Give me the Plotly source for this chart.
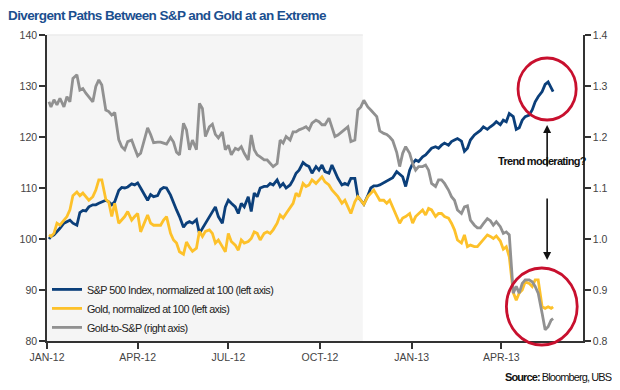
import plotly.graph_objects as go

dates = [
    "2012-01-03", "2012-01-05", "2012-01-08", "2012-01-11", "2012-01-14", "2012-01-18", "2012-01-21", "2012-01-24", "2012-01-27", "2012-01-31",
    "2012-02-03", "2012-02-06", "2012-02-09", "2012-02-12", "2012-02-16", "2012-02-19", "2012-02-22", "2012-02-25", "2012-02-29",
    "2012-03-03", "2012-03-06", "2012-03-09", "2012-03-13", "2012-03-16", "2012-03-19", "2012-03-22", "2012-03-26", "2012-03-29",
    "2012-04-01", "2012-04-04", "2012-04-08", "2012-04-11", "2012-04-14", "2012-04-17", "2012-04-21", "2012-04-24", "2012-04-27", "2012-04-30",
    "2012-05-04", "2012-05-07", "2012-05-10", "2012-05-13", "2012-05-17", "2012-05-20", "2012-05-23", "2012-05-26", "2012-05-30",
    "2012-06-02", "2012-06-05", "2012-06-08", "2012-06-12", "2012-06-15", "2012-06-18", "2012-06-21", "2012-06-25", "2012-06-28",
    "2012-07-01", "2012-07-04", "2012-07-08", "2012-07-11", "2012-07-14", "2012-07-17", "2012-07-21", "2012-07-24", "2012-07-27", "2012-07-30",
    "2012-08-02", "2012-08-06", "2012-08-09", "2012-08-12", "2012-08-15", "2012-08-19", "2012-08-22", "2012-08-25", "2012-08-28",
    "2012-09-01", "2012-09-04", "2012-09-07", "2012-09-10", "2012-09-14", "2012-09-17", "2012-09-20", "2012-09-23", "2012-09-27", "2012-09-30",
    "2012-10-03", "2012-10-06", "2012-10-10", "2012-10-13", "2012-10-16", "2012-10-19", "2012-10-23", "2012-10-26", "2012-10-29",
    "2012-11-01", "2012-11-05", "2012-11-08", "2012-11-11", "2012-11-14", "2012-11-18", "2012-11-21", "2012-11-24", "2012-11-27", "2012-11-30",
    "2012-12-04", "2012-12-07", "2012-12-10", "2012-12-13", "2012-12-17", "2012-12-20", "2012-12-23", "2012-12-26", "2012-12-30",
    "2013-01-02", "2013-01-05", "2013-01-08", "2013-01-12", "2013-01-15", "2013-01-18", "2013-01-21", "2013-01-25", "2013-01-28", "2013-01-31",
    "2013-02-03", "2013-02-07", "2013-02-10", "2013-02-13", "2013-02-16", "2013-02-20", "2013-02-23", "2013-02-26",
    "2013-03-01", "2013-03-05", "2013-03-08", "2013-03-11", "2013-03-14", "2013-03-18", "2013-03-21", "2013-03-24", "2013-03-27", "2013-03-31",
    "2013-04-03", "2013-04-06", "2013-04-09", "2013-04-13", "2013-04-16", "2013-04-19", "2013-04-22", "2013-04-25", "2013-04-29",
    "2013-05-02", "2013-05-05", "2013-05-08", "2013-05-12", "2013-05-15", "2013-05-18", "2013-05-21", "2013-05-23",
]

sp500 = [
    100.0, 100.5, 100.8, 101.4, 102.1, 103.1, 103.4, 103.7, 103.1, 102.7,
    105.2, 105.6, 105.5, 106.3, 106.7, 106.7, 107.0, 107.3, 107.6,
    107.3, 106.7, 107.3, 109.5, 110.1, 110.0, 110.2, 110.8, 110.6,
    111.0, 110.0, 108.6, 107.6, 108.7, 108.3, 108.5, 109.7, 110.1, 110.0,
    108.6, 107.0, 105.7, 104.4, 102.3, 103.1, 103.4, 103.1, 103.8,
    101.1, 102.1, 103.1, 104.4, 105.4, 106.3, 104.4, 103.1, 106.3,
    107.6, 107.0, 106.3, 105.0, 107.0, 106.3, 108.3, 105.4, 109.0, 108.3,
    110.0, 110.3, 110.3, 110.9, 110.6, 111.6, 110.3, 110.9, 110.0,
    110.6, 111.6, 112.9, 113.5, 115.0, 114.5, 114.2, 112.9, 114.2, 113.5,
    114.5, 113.2, 112.9, 114.5, 113.2, 111.9, 110.6, 110.9, 110.6,
    111.9, 111.9, 108.3, 107.6, 106.8, 108.5, 110.0, 110.4, 110.4, 110.6,
    111.0, 111.4, 111.7, 112.0, 113.2, 112.6, 112.2, 110.3, 113.5,
    114.8, 115.5, 115.2, 116.1, 116.5, 117.1, 117.8, 118.1, 117.8, 118.4,
    118.8, 118.4, 119.1, 119.4, 119.7, 119.2, 117.2, 117.8,
    119.4, 120.4, 120.8, 121.3, 122.0, 121.5, 122.0, 122.4, 123.0, 122.4,
    123.3, 123.0, 124.6, 124.0, 121.5, 121.8, 123.3, 124.0, 124.3,
    125.3, 126.9, 127.9, 128.9, 130.3, 130.8, 129.5, 128.9,
]

gold = [
    100.8, 100.5, 101.1, 103.1, 102.7, 103.7, 104.4, 105.7, 108.5, 109.2,
    108.5, 109.0, 108.3, 107.6, 108.3, 109.6, 111.6, 111.6, 107.8,
    107.2, 104.4, 107.0, 103.1, 103.7, 104.4, 105.4, 103.7, 104.4,
    105.0, 101.4, 103.1, 104.7, 103.1, 102.7, 102.7, 102.7, 103.7, 104.4,
    101.1, 99.8, 99.2, 97.5, 97.0, 99.4, 98.4, 97.6, 98.2,
    101.5, 100.5, 101.5, 101.8, 101.1, 99.2, 99.8, 98.5, 97.5,
    101.1, 99.5, 98.8, 97.8, 99.8, 99.2, 99.5, 100.1, 101.4, 101.1,
    99.8, 101.1, 101.4, 101.1, 101.8, 103.1, 104.7, 104.1, 105.0,
    106.3, 107.0, 109.0, 108.3, 110.9, 110.3, 110.6, 111.6, 110.9, 111.6,
    112.2, 111.2, 110.6, 109.6, 109.0, 108.3, 107.0, 107.6, 106.3,
    105.0, 107.3, 108.3, 107.6, 106.8, 108.3, 109.0, 109.6, 108.6, 107.6,
    107.6, 107.0, 107.6, 106.3, 104.4, 103.1, 104.1, 104.4, 105.0,
    103.1, 104.4, 105.0, 105.7, 104.7, 106.0, 105.7, 104.4, 105.0, 105.0,
    104.4, 104.1, 103.1, 101.8, 99.8, 99.2, 100.8, 98.5,
    98.8, 98.5, 98.5, 99.2, 99.8, 100.8, 100.5, 100.1, 100.6, 99.6,
    98.0, 98.5, 96.5, 89.5, 88.0, 89.4, 90.0, 91.6, 91.3,
    90.7, 92.0, 92.0, 86.7, 86.4, 86.7, 86.4, 86.7,
]

gold_to_sp = [
    1.269, 1.259, 1.273, 1.263, 1.276, 1.259, 1.279, 1.269, 1.315, 1.322,
    1.292, 1.295, 1.286, 1.279, 1.269, 1.299, 1.312, 1.302, 1.253,
    1.250, 1.243, 1.248, 1.195, 1.181, 1.175, 1.191, 1.194, 1.178,
    1.163, 1.168, 1.195, 1.218, 1.205, 1.189, 1.190, 1.190, 1.188, 1.186,
    1.199, 1.190, 1.170, 1.165, 1.227, 1.214, 1.175, 1.194, 1.175,
    1.266, 1.256, 1.201, 1.220, 1.225, 1.205, 1.198, 1.210, 1.175,
    1.184, 1.165, 1.178, 1.175, 1.181, 1.168, 1.155, 1.204, 1.175, 1.165,
    1.161, 1.155, 1.155, 1.148, 1.142, 1.148, 1.194, 1.188, 1.201,
    1.194, 1.210, 1.210, 1.214, 1.217, 1.220, 1.214, 1.227, 1.233, 1.230,
    1.224, 1.224, 1.237, 1.217, 1.201, 1.204, 1.210, 1.214, 1.220,
    1.191, 1.194, 1.253, 1.259, 1.272, 1.259, 1.253, 1.246, 1.240, 1.212,
    1.207, 1.205, 1.200, 1.193, 1.170, 1.142, 1.168, 1.181, 1.168,
    1.148, 1.135, 1.142, 1.142, 1.145, 1.135, 1.109, 1.103, 1.116, 1.116,
    1.109, 1.096, 1.083, 1.076, 1.057, 1.050, 1.063, 1.065,
    1.037, 1.027, 1.022, 1.022, 1.030, 1.040, 1.036, 1.027, 1.034, 1.024,
    1.011, 1.014, 1.008, 0.894, 0.907, 0.894, 0.913, 0.920, 0.920,
    0.916, 0.907, 0.894, 0.854, 0.822, 0.828, 0.841, 0.844,
]

series_names = [
    "S&P 500 Index, normalized at 100 (left axis)",
    "Gold, normalized at 100 (left axis)",
    "Gold-to-S&P (right axis)",
]

tick_dates = ["2012-01-01", "2012-04-01", "2012-07-01", "2012-10-01", "2013-01-01", "2013-04-01"]
tick_labels = ["JAN-12", "APR-12", "JUL-12", "OCT-12", "JAN-13", "APR-13"]

FONT = "Liberation Sans, Arial, sans-serif"
BLUE = "#0b3f7a"
GOLD = "#fdc12a"
GREY = "#919191"
RED = "#c8102e"


def tight(text, spacing):
    # narrow the letter spacing so the text takes the width of the condensed original font
    return f'<span style="letter-spacing:{spacing}px">{text}</span>'


fig = go.Figure()
fig.add_trace(go.Scatter(x=dates, y=sp500, mode="lines", name=tight(series_names[0], -0.55),
                         line=dict(color=BLUE, width=2.8)))
fig.add_trace(go.Scatter(x=dates, y=gold, mode="lines", name=tight(series_names[1], -0.55),
                         line=dict(color=GOLD, width=2.8)))
fig.add_trace(go.Scatter(x=dates, y=gold_to_sp, mode="lines", name=tight(series_names[2], -0.55),
                         line=dict(color=GREY, width=2.8), yaxis="y2"))

fig.add_shape(type="rect", xref="x", yref="paper", x0="2012-01-01", x1="2012-11-13", y0=0, y1=1,
              fillcolor="#f5f5f5", line=dict(width=0), layer="below")
fig.add_shape(type="line", xref="x", yref="paper", x0="2012-01-01", x1="2012-11-13", y0=1, y1=1,
              line=dict(color="#ebebeb", width=1.5), layer="below")

fig.add_shape(type="circle", xref="paper", yref="paper", x0=0.8788, x1=0.9873, y0=0.7222, y1=0.9248,
              line=dict(color=RED, width=2.8))
fig.add_shape(type="circle", xref="paper", yref="paper", x0=0.8571, x1=0.9892, y0=-0.0131, y1=0.2386,
              line=dict(color=RED, width=2.8))

fig.add_annotation(xref="paper", yref="paper", x=0.9331, y=0.7059, ax=0, ay=43, text="",
                   showarrow=True, arrowhead=2, arrowsize=1, arrowwidth=1.6, arrowcolor="#111")
fig.add_annotation(xref="paper", yref="paper", x=0.9331, y=0.2647, ax=0, ay=-63, text="",
                   showarrow=True, arrowhead=2, arrowsize=1, arrowwidth=1.6, arrowcolor="#111")
fig.add_annotation(xref="paper", yref="paper", x=0.9245, y=0.5882, xanchor="center", yanchor="middle",
                   text=tight("<b>Trend moderating?</b>", -0.7), showarrow=False,
                   font=dict(family=FONT, size=11, color="#111"))
fig.add_annotation(xref="paper", yref="paper", x=1.058, y=-0.1176, xanchor="right", yanchor="middle",
                   text=tight("<b>Source:</b> Bloomberg, UBS", -0.9),
                   showarrow=False, font=dict(family=FONT, size=11, color="#111"))

axis_common = dict(showline=True, linecolor="#333", linewidth=1.5, ticks="outside", ticklen=6,
                   tickcolor="#333", tickwidth=1.5, showgrid=False, zeroline=False,
                   tickfont=dict(family=FONT, size=10.5, color="#444"))

# page body adds an 8px offset; figure is sized so the plot area lands where the reference has it
fig.update_layout(
    width=612, height=382,
    margin=dict(l=25, r=34, t=27, b=49),
    paper_bgcolor="white", plot_bgcolor="white",
    title=dict(text=tight("<b>Divergent Paths Between S&P and Gold at an Extreme</b>", -0.6),
               x=0.0, xanchor="left", y=0.994, yanchor="top", yref="container",
               font=dict(family=FONT, size=13.5, color="#1b4f8f")),
    xaxis=dict(range=["2012-01-01", "2013-06-22"], tickvals=tick_dates, ticktext=tick_labels, **axis_common),
    yaxis=dict(range=[80, 140], dtick=10, **axis_common),
    yaxis2=dict(range=[0.8, 1.4], dtick=0.1, tickformat=".1f", overlaying="y", side="right", **axis_common),
    legend=dict(x=0.0, y=0.216, xanchor="left", yanchor="top", bgcolor="rgba(0,0,0,0)",
                font=dict(family=FONT, size=10.8, color="#222"), tracegroupgap=0),
    showlegend=True,
)

fig.write_html("out.html")
